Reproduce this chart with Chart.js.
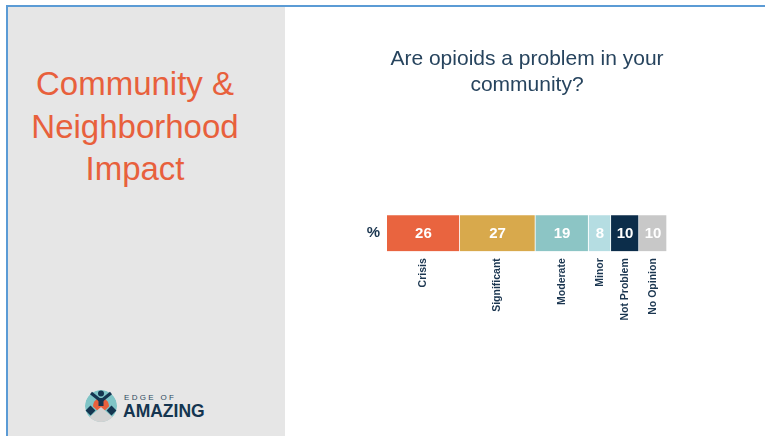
<!DOCTYPE html>
<html>
<head>
<meta charset="utf-8">
<script src="https://cdn.jsdelivr.net/npm/chart.js@4.4.1/dist/chart.umd.min.js"></script>
<style>
  html, body { margin: 0; padding: 0; background: #fff; }
  #slide { position: relative; width: 765px; height: 436px; overflow: hidden; background: #fff; }
  #frame-top { position: absolute; left: 6px; top: 5px; width: 759px; height: 2px; background: #5b9bd5; }
  #frame-left { position: absolute; left: 6px; top: 5px; width: 2px; height: 431px; background: #5b9bd5; }
  #side { position: absolute; left: 8px; top: 7px; width: 277px; height: 429px; background: #e6e6e6; }
  #side h1 {
    position: absolute; left: 0; top: 56px; width: 254px; margin: 0;
    font: 400 33px "Liberation Sans", Arial, sans-serif; line-height: 42.5px;
    color: #e8603c; text-align: center;
  }
  #logo { position: absolute; left: 76px; top: 380px; }
  #chart-box { position: absolute; left: 290px; top: 0; width: 475px; height: 436px; }
</style>
</head>
<body>
<div id="slide">
  <div id="side">
    <h1>Community &amp;<br>Neighborhood<br>Impact</h1>
    <svg id="logo" width="130" height="40" viewBox="0 0 130 40">
      <defs>
        <clipPath id="disc"><circle cx="17" cy="19" r="16"/></clipPath>
      </defs>
      <g clip-path="url(#disc)">
        <circle cx="17" cy="19" r="16" fill="#7fc4c6"/>
        <path d="M17 11 C21.5 11 25 14.5 25 19.5 L17 27 L9 19.5 C9 14.5 12.5 11 17 11 Z" fill="#e8603c"/>
        <polygon points="17,20 42,42 -8,42" fill="#d3d3d3"/>
      </g>
      <circle cx="17" cy="6.5" r="3" fill="#143550"/>
      <polyline points="7,6 17,14 27,6" fill="none" stroke="#143550" stroke-width="3.2" stroke-linejoin="round"/>
      <rect x="14.5" y="11" width="5" height="8" fill="#143550"/>
      <rect x="3" y="20" width="7" height="7" fill="#143550" transform="rotate(45 6.5 23.5)"/>
      <rect x="24" y="20" width="7" height="7" fill="#143550" transform="rotate(45 27.5 23.5)"/>
      <text x="40" y="13" font-family="Liberation Sans, Arial, sans-serif" font-size="8" letter-spacing="2.3" fill="#2e4a60">EDGE OF</text>
      <text x="39" y="30" font-family="Liberation Sans, Arial, sans-serif" font-size="17.5" font-weight="700" fill="#143550">AMAZING</text>
    </svg>
  </div>
  <div id="frame-top"></div>
  <div id="frame-left"></div>
  <div id="chart-box"><canvas id="chart" width="475" height="436"></canvas></div>
</div>

<script>
// survey answers, one stacked segment each
const categories = ["Crisis", "Significant", "Moderate", "Minor", "Not Problem", "No Opinion"];
const shares = [26, 27, 19, 8, 10, 10];
const rowLabels = ["%"];
const titleLines = ["Are opioids a problem in your", "community?"];

const segmentColors = ["#e9643f", "#d8a94c", "#8cc5c5", "#b5dde2", "#0c2d4a", "#c8c8c8"];
const navy = "#1b3650";

// value printed inside each segment
const valueLabels = {
  id: "value-labels",
  afterDatasetsDraw(chart) {
    const { ctx } = chart;
    ctx.save();
    ctx.font = "bold 15px 'Liberation Sans', Arial, sans-serif";
    ctx.fillStyle = "#fff";
    ctx.textAlign = "center";
    ctx.textBaseline = "middle";
    chart.data.datasets.forEach((ds, i) => {
      const bar = chart.getDatasetMeta(i).data[0];
      const p = bar.getCenterPoint();
      ctx.fillText(String(ds.data[0]), p.x, p.y + 1);
    });
    ctx.restore();
  },
};

// rotated category names hanging under the bar
const categoryLabels = {
  id: "category-labels",
  afterDraw(chart) {
    const { ctx } = chart;
    ctx.save();
    ctx.font = "bold 10.5px 'Liberation Sans', Arial, sans-serif";
    ctx.fillStyle = navy;
    ctx.textAlign = "right";
    ctx.textBaseline = "middle";
    chart.data.datasets.forEach((ds, i) => {
      const bar = chart.getDatasetMeta(i).data[0];
      const p = bar.getCenterPoint();
      const { height } = bar.getProps(["height"], true);
      ctx.save();
      ctx.translate(p.x, p.y + height / 2 + 7);
      ctx.rotate(-Math.PI / 2);
      ctx.fillText(ds.label, 0, 0);
      ctx.restore();
    });
    ctx.restore();
  },
};

new Chart(document.getElementById("chart"), {
  type: "bar",
  data: {
    labels: rowLabels,
    datasets: categories.map((name, i) => ({
      label: name,
      data: [shares[i]],
      backgroundColor: segmentColors[i],
      borderColor: "rgba(255,255,255,0.6)",
      borderWidth: { right: 1 },
      borderSkipped: false,
      barThickness: 36,
    })),
  },
  options: {
    indexAxis: "y",
    responsive: false,
    animation: false,
    layout: { padding: { left: 0, right: 98, top: 0, bottom: 150 } },
    scales: {
      x: { stacked: true, min: 0, max: 100, display: false },
      y: {
        stacked: true,
        grid: { display: false, drawTicks: false },
        border: { display: false },
        ticks: {
          padding: 7,
          color: navy,
          font: { family: "'Liberation Sans', Arial, sans-serif", size: 15, weight: "bold" },
        },
        afterFit(scale) { scale.width = 97; },
      },
    },
    plugins: {
      legend: { display: false },
      tooltip: { enabled: false },
      title: {
        display: true,
        fullSize: false,
        text: titleLines,
        color: "#27445e",
        font: { family: "'Liberation Sans', Arial, sans-serif", size: 21, weight: "normal", lineHeight: 1.2 },
        padding: { top: 47, bottom: 83 },
      },
    },
  },
  plugins: [valueLabels, categoryLabels],
});
</script>
</body>
</html>
